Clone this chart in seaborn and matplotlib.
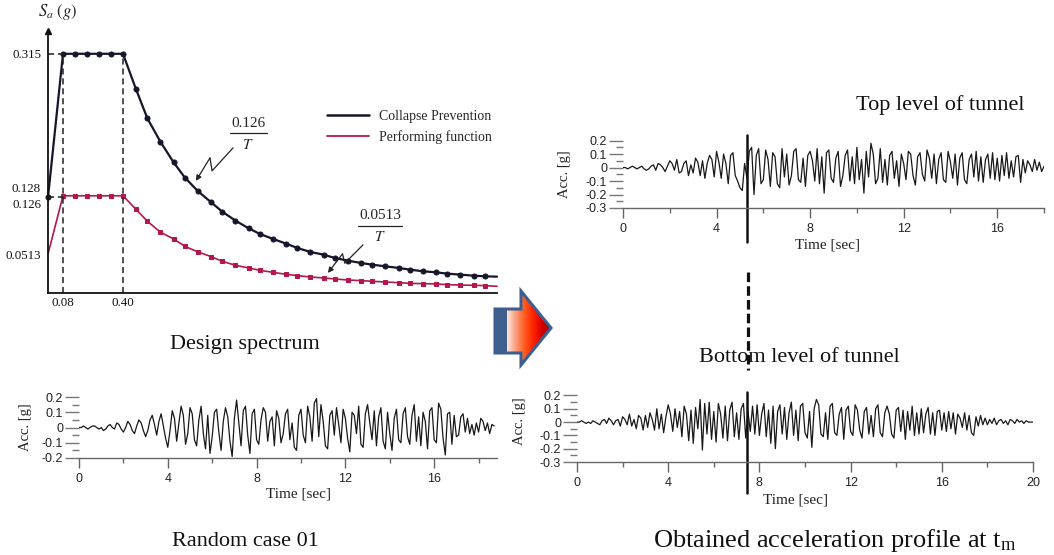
import numpy as np
import pandas as pd
import seaborn as sns
import matplotlib.pyplot as plt
from matplotlib.patches import Polygon, Rectangle
from matplotlib.lines import Line2D
from matplotlib.colors import LinearSegmentedColormap
from matplotlib.ticker import MultipleLocator, FuncFormatter

# ---- design spectrum ----
period = [0.0, 0.08, 0.144, 0.208, 0.272, 0.336, 0.40,
          0.47, 0.53, 0.60, 0.67, 0.73, 0.80, 0.87, 0.93, 1.00, 1.07,
          1.13, 1.20, 1.27, 1.33, 1.40, 1.47, 1.53, 1.60, 1.67, 1.73,
          1.80, 1.87, 1.93, 2.00, 2.07, 2.13, 2.20, 2.27, 2.33, 2.395]
sa_collapse = [0.126, 0.315, 0.315, 0.315, 0.315, 0.315, 0.315,
               0.268, 0.230, 0.199, 0.172, 0.152, 0.134, 0.1195, 0.107, 0.0953, 0.0852,
               0.0778, 0.0712, 0.065, 0.0593, 0.054, 0.0505, 0.0461, 0.0426, 0.0395, 0.0373,
               0.0351, 0.033, 0.0308, 0.0286, 0.0272, 0.0255, 0.0242, 0.0228, 0.022, 0.0215]
sa_perform = [0.0513, 0.128, 0.128, 0.128, 0.128, 0.128, 0.128,
              0.110, 0.0945, 0.080, 0.0712, 0.0615, 0.054, 0.0479, 0.0417, 0.0365, 0.033,
              0.0299, 0.0272, 0.0246, 0.0228, 0.0211, 0.0198, 0.0185, 0.0171, 0.0163, 0.0154,
              0.0145, 0.0136, 0.0127, 0.0123, 0.0119, 0.011, 0.0105, 0.0101, 0.0097, 0.0088]
case_names = ["Collapse Prevention", "Performing function"]

# ---- acceleration histories, 0.01 g units, one value every 0.1 s ----
acc_random = [
    0, 0, 1, 0, -1, 0, 1, 1, 0, -1,
    0, -2, -1, 1, 2, 0, -1, 3, 2, -1,
    -3, 0, 4, 2, -2, -4, 1, 5, 3, -2,
    -6, -2, 5, 8, 2, -5, 4, 9, 1, -7,
    -13, -2, 11, 6, -9, 3, 14, 8, -11, -4,
    13, 9, -8, -12, 5, 14, -4, -14, 8, -17,
    -6, 10, 12, -3, -15, 4, 13, 7, -9, -19,
    6, 18, 3, -12, 11, 14, -5, -17, 9, 12,
    -8, -11, 5, 13, 10, -9, 4, 7, -12, 11,
    6, -10, -4, 9, 12, -8, 3, -13, -15, 8,
    12, -5, -10, 14, 7, -9, 16, 19, -6, 15,
    4, -12, -14, 8, 11, -5, 13, 2, -10, 12,
    6, -7, -16, 10, 8, -4, 14, -11, -13, 9,
    15, 3, -8, 11, -12, 7, 13, -9, -14, 10,
    -4, -15, 6, 12, -8, -10, 9, 13, -6, -11,
    8, 15, -9, 7, -12, 10, 4, -14, 11, 13,
    -8, -10, 16, 12, -7, -18, 9, 10, -11, 8,
    -6, -5, 7, 9, -3, 6, -4, 2, -5, 3,
    -3, 6, 4, -2, 3, -4, 2, 1]
acc_top = [
    0, 0, -1, 0, 1, 0, -1, 0, 1, -1,
    -2, -1, 1, 2, -2, 3, 2, 0, -3, 1,
    5, 3, -2, 6, -4, -3, 3, 5, -6, 2,
    -4, 7, 4, -6, 5, -8, 3, 9, 6, -7,
    12, 4, -8, 10, 3, -12, 9, 11, -6, -10,
    -15, -17, 3, -8, 12, 15, -20, 9, 14, -12,
    -9, 13, 6, -14, 11, 8, -12, -15, 14, -7,
    10, -13, -6, 12, 14, -9, -11, 7, -14, 9,
    12, 5, -10, 14, -12, 8, -19, 11, 13, -8,
    -11, 7, 12, -14, -6, 9, 13, -10, 8, -12,
    15, -9, 6, -19, 12, -7, 18, 10, -12, -8,
    14, -11, 6, -13, 9, 12, -8, 5, -14, 10,
    3, -9, 12, 10, -6, -13, 8, 11, -5, -10,
    13, 7, -8, 10, -12, 6, 11, -9, -11, 12,
    4, -8, 10, -13, 7, 11, -9, -12, 6, 10,
    -7, 12, -10, 8, -11, 6, 10, -8, 11, -9,
    7, -10, 9, -6, 11, -8, 5, -7, 8, 9,
    -11, 6, -4, 5, 2, -3, 6, -2, 4, -3,
    1]
acc_bottom = [
    0, 0, 1, 0, -1, 0, -1, 1, 0, -1,
    -2, 1, 2, -1, 3, 1, -2, 1, 2, -3,
    4, 2, -2, 6, -3, 2, -5, 5, 3, -6,
    5, -4, 7, 2, -6, 10, -5, 6, -8, 4,
    13, 6, -7, 10, -4, 8, -11, 12, 6, -14,
    9, -16, 11, -5, 17, -21, 14, -9, 15, -13,
    8, -15, 14, 6, -12, 12, -14, 9, 15, -11,
    7, -13, 10, 14, -12, 8, -7, 12, -9, 13,
    -10, 6, 14, -11, 9, -16, 12, -20, 8, 13,
    -9, 11, -13, 7, 15, -10, 9, -14, 12, 14,
    -8, -12, 8, -19, 10, 17, 13, -9, -11, 7,
    -13, 12, 14, -8, -10, 6, 11, -13, 9, 12,
    -7, -10, 13, 9, -6, -12, 8, 11, -9, 5,
    -11, 10, 13, -8, -11, 7, 12, 6, -9, -12,
    9, 11, -7, 9, -13, 8, -6, 12, -10, 7,
    -9, 10, -8, 6, 11, -9, 7, -10, 8, 9,
    -6, 7, -7, 8, -5, 7, -9, 6, 3, -4,
    7, -6, 5, -8, -10, 4, -3, 5, -2, 3,
    -2, 2, -1, 3, -2, 1, 2, -1, 1, -2,
    2, 1, -1, 2, 0, 1, -1, 1, 0, 0,
    0]
dt = 0.1
t_mark_top = 5.3      # time of the marked instant in each record
t_mark_bottom = 7.46

W, H = 1054, 555

sns.set_theme(style="white")
plt.rcParams["font.family"] = ["Liberation Serif", "DejaVu Serif"]
plt.rcParams["mathtext.fontset"] = "stix"
plt.rcParams["axes.unicode_minus"] = False

fig = plt.figure(figsize=(W / 100, H / 100), dpi=100)


def px_axes(left, right, bottom, top):
    return fig.add_axes([left / W, 1 - bottom / H, (right - left) / W, (bottom - top) / H])


# ---------------- design spectrum ----------------
spec = pd.DataFrame({
    "T": period * 2,
    "Sa": sa_collapse + sa_perform,
    "case": [case_names[0]] * len(period) + [case_names[1]] * len(period),
})
ax1 = px_axes(48, 497, 293, 31)
cp_col, pf_col = "#15152b", "#b3174c"
sns.lineplot(data=spec[spec.case == case_names[0]], x="T", y="Sa", ax=ax1, sort=False,
             estimator=None, color=cp_col, lw=1.6, marker="o", ms=3.6,
             markeredgecolor=cp_col, markevery=slice(0, -1), clip_on=False)
sns.lineplot(data=spec[spec.case == case_names[1]], x="T", y="Sa", ax=ax1, sort=False,
             estimator=None, color=pf_col, lw=1.2, marker="s", ms=3.0,
             markeredgecolor=pf_col, markevery=slice(1, -1), clip_on=False)
ax1.set_xlim(0, 2.395)
ax1.set_ylim(0, 0.345)
for s in ["top", "right"]:
    ax1.spines[s].set_visible(False)
for s in ["left", "bottom"]:
    ax1.spines[s].set_color("#111")
    ax1.spines[s].set_linewidth(1.3)
ax1.plot(0, 0.345, marker="^", ms=5, color="#111", clip_on=False)
ax1.set_xlabel("")
ax1.set_ylabel("")
ax1.set_xticks([0.08, 0.40], ["0.08", "0.40"])
ax1.set_yticks([0.315, 0.1384, 0.1173, 0.0513], ["0.315", "0.128", "0.126", "0.0513"])
ax1.tick_params(axis="both", length=0, labelsize=9.3, colors="#111")
ax1.tick_params(axis="x", pad=3)
ax1.tick_params(axis="y", pad=5)
for x0 in [0.08, 0.40]:
    ax1.plot([x0, x0], [0, 0.315], ls=(0, (4, 2.5)), color="#222", lw=1.1)
for y0 in [0.315, 0.127]:
    ax1.plot([0, 0.08], [y0, y0], ls=(0, (4, 2.5)), color="#222", lw=1.1)
ax1.text(0.05, 0.37, r"$S_a\ (g)$", fontsize=12, ha="center", va="center", clip_on=False)

leg_handles = [Line2D([], [], color=cp_col, lw=1.8), Line2D([], [], color=pf_col, lw=1.3)]
ax1.legend(leg_handles, case_names, loc="upper left", frameon=False,
           bbox_to_anchor=((327 - 48) / 449, (293 - 110) / 261.8),
           borderpad=0, borderaxespad=0, handlelength=3.0, handletextpad=0.75,
           labelspacing=0.5, fontsize=10)

# fraction labels with zig-zag leaders
ax1.text(1.067, 0.2227, "0.126", fontsize=11, ha="center", va="center")
ax1.plot([0.971, 1.168], [0.2109, 0.2109], color="#222", lw=0.9)
ax1.text(1.067, 0.195, r"$T$", fontsize=11, ha="center", va="center")
ax1.plot([0.987, 0.875, 0.864], [0.1911, 0.1608, 0.1779], color="#222", lw=0.9)
ax1.annotate("", xy=(0.789, 0.1476), xytext=(0.864, 0.1779),
             arrowprops=dict(arrowstyle="-|>", color="#222", lw=0.9, mutation_scale=8,
                             shrinkA=0, shrinkB=0))
ax1.text(1.771, 0.1015, "0.0513", fontsize=11, ha="center", va="center")
ax1.plot([1.653, 1.888], [0.0883, 0.0883], color="#222", lw=0.9)
ax1.text(1.771, 0.0738, r"$T$", fontsize=11, ha="center", va="center")
ax1.plot([1.68, 1.583, 1.571], [0.0633, 0.0392, 0.0515], color="#222", lw=0.9)
ax1.annotate("", xy=(1.493, 0.0264), xytext=(1.571, 0.0515),
             arrowprops=dict(arrowstyle="-|>", color="#222", lw=0.9, mutation_scale=8,
                             shrinkA=0, shrinkB=0))


# ---------------- acceleration records ----------------
def acc_panel(ax, acc, xmax, ymin, ymax, xlab_pos, ylab_pos):
    t = np.arange(len(acc)) * dt
    g = np.array(acc) / 100.0
    sns.lineplot(x=t, y=g, ax=ax, sort=False, estimator=None, color="#181818", lw=0.9)
    ax.set_xlim(0, xmax)
    ax.set_ylim(ymin, ymax)
    for s in ["top", "right", "left"]:
        ax.spines[s].set_visible(False)
    ax.spines["bottom"].set_color("#666")
    ax.spines["bottom"].set_linewidth(1.0)
    ax.xaxis.set_major_locator(MultipleLocator(4))
    ax.xaxis.set_minor_locator(MultipleLocator(2))
    ax.yaxis.set_major_locator(MultipleLocator(0.1))
    ax.yaxis.set_minor_locator(MultipleLocator(0.05))
    ax.yaxis.set_major_formatter(FuncFormatter(lambda v, p: "0" if abs(v) < 1e-9 else f"{v:.1f}"))
    ax.tick_params(axis="x", which="major", direction="out", length=7, width=1, color="#666",
                   pad=4, labelsize=9, labelcolor="#222", bottom=True)
    ax.tick_params(axis="x", which="minor", direction="out", length=3.5, width=1,
                   color="#666", bottom=True)
    ax.tick_params(axis="y", which="major", direction="out", length=10, width=1, color="#777",
                   pad=1.5, labelsize=9, labelcolor="#222", left=True)
    ax.tick_params(axis="y", which="minor", direction="out", length=5, width=1,
                   color="#777", left=True)
    for lab in ax.get_xticklabels() + ax.get_yticklabels():
        lab.set_fontfamily(["Liberation Sans", "DejaVu Sans"])
    ax.set_xlabel("Time [sec]", fontsize=11, color="#222")
    ax.xaxis.set_label_coords(*xlab_pos)
    ax.xaxis.label.set_va("center")
    ax.set_ylabel("Acc. [g]", fontsize=10.5, color="#222")
    ax.yaxis.set_label_coords(*ylab_pos)
    ax.yaxis.label.set_va("center")


ax2 = px_axes(79, 497, 458, 395.5)
acc_panel(ax2, acc_random, 18.83, -0.2, 0.21, (0.524, -0.58), (-0.129, 0.50))

ax3 = px_axes(623, 1044, 208, 134.5)
acc_panel(ax3, acc_top, 18.0, -0.3, 0.245, (0.485, -0.50), (-0.138, 0.46))
ax3.plot([t_mark_top, t_mark_top], [0.245, -0.555], color="#111", lw=1.8, clip_on=False)

ax4 = px_axes(577, 1033, 462, 389.5)
acc_panel(ax4, acc_bottom, 20.0, -0.3, 0.245, (0.48, -0.52), (-0.127, 0.56))
ax4.plot([t_mark_bottom, t_mark_bottom], [0.225, -0.535], color="#111", lw=1.8, clip_on=False)

# ---------------- overlay: titles, block arrow, link ----------------
ov = fig.add_axes([0, 0, 1, 1], zorder=5)
ov.set_xlim(0, W)
ov.set_ylim(H, 0)
ov.axis("off")
ov.patch.set_alpha(0)

title_kw = dict(fontsize=16, ha="center", va="center", color="#111")
ov.text(245, 344, "Design spectrum", **title_kw)
ov.text(245, 542, "Random case 01", **title_kw)
ov.text(940, 105, "Top level of tunnel", **title_kw)
ov.text(799, 358, "Bottom level of tunnel", **title_kw)
ov.text(835, 540, r"Obtained acceleration profile at t$_\mathregular{m}$",
        **{**title_kw, "fontsize": 19})

ov.plot([748, 748], [272, 370], color="#111", lw=2.3, ls=(0, (3.0, 1.3)), zorder=1)

arrow_pts = [(495, 309), (521, 309), (521, 291), (551, 328), (521, 365), (521, 353), (495, 353)]
arrow = Polygon(arrow_pts, closed=True, facecolor="none", edgecolor="#3e5f8e", lw=2.2,
                joinstyle="miter", zorder=4)
ov.add_patch(arrow)
cmap = LinearSegmentedColormap.from_list(
    "arr", ["#fde5dc", "#fb9c7c", "#ff5a1e", "#ff2200", "#d40000", "#9a0000"])
img = ov.imshow(np.linspace(0, 1, 200).reshape(1, -1), cmap=cmap, aspect="auto",
                extent=[507, 551, 365, 291], zorder=2)
clip = Polygon(arrow_pts, closed=True, transform=ov.transData)
img.set_clip_path(clip)
ov.add_patch(Rectangle((495, 309), 12, 44, facecolor="#3e5f8e", edgecolor="none", zorder=3))

fig.savefig("out.png", dpi=100)
